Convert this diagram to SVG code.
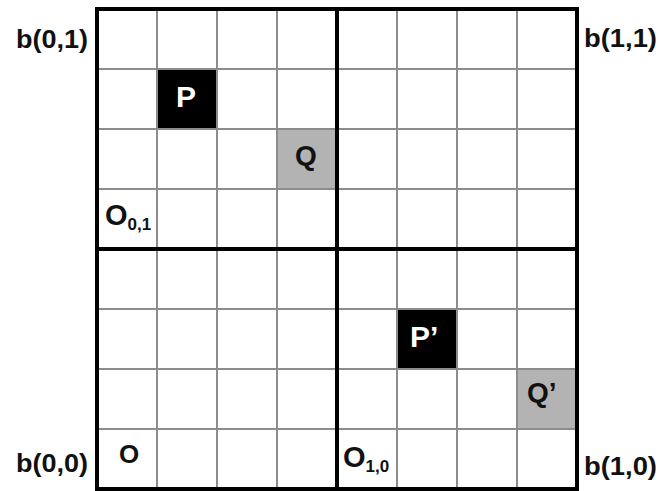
<svg xmlns="http://www.w3.org/2000/svg" width="660" height="491" viewBox="0 0 660 491">
<style>
text{font-family:"Liberation Sans",Arial,sans-serif;font-weight:bold;fill:#111}
.thin{stroke:#8c8c8c;stroke-width:2;fill:none}
.thick{stroke:#000;stroke-width:4;fill:none}
.blk{fill:#000}
.gry{fill:#b3b3b3}
.lbl{font-size:25px}
</style>
<rect width="660" height="491" fill="#fff"/>
<g id="cells">
<rect id="cellP" class="blk" x="157" y="69" width="60" height="60"/>
<rect id="cellQ" class="gry" x="277" y="129" width="60" height="60"/>
<rect id="cellP2" class="blk" x="397" y="309" width="60" height="60"/>
<rect id="cellQ2" class="gry" x="517" y="369" width="60" height="60"/>
</g>
<g id="grid">
<path class="thin" d="M157 9V489M217 9V489M277 9V489M397 9V489M457 9V489M517 9V489M97 69H577M97 129H577M97 189H577M97 309H577M97 369H577M97 429H577"/>
<path class="thick" d="M337 9V489M97 249H577"/>
<rect class="thick" x="97" y="9" width="480" height="480"/>
</g>
<g id="labels">
<g id="b01"><text class="lbl" x="16" y="48" textLength="72" lengthAdjust="spacingAndGlyphs">b(0,1)</text></g>
<g id="b11"><text class="lbl" x="584" y="47" textLength="73" lengthAdjust="spacingAndGlyphs">b(1,1)</text></g>
<g id="b00"><text class="lbl" x="16" y="472" textLength="72" lengthAdjust="spacingAndGlyphs">b(0,0)</text></g>
<g id="b10"><text class="lbl" x="584" y="475" textLength="73" lengthAdjust="spacingAndGlyphs">b(1,0)</text></g>
</g>
<g id="nodes">
<g id="P"><text x="186" y="107" font-size="30" text-anchor="middle" style="fill:#fff">P</text></g>
<g id="Q"><text x="306" y="165" font-size="28" text-anchor="middle">Q</text></g>
<g id="P2"><text x="410" y="347" font-size="30" style="fill:#fff">P’</text></g>
<g id="Q2"><text x="527" y="402" font-size="28">Q’</text></g>
<g id="O"><text x="129" y="463" font-size="26" text-anchor="middle">O</text></g>
<g id="O01"><text x="105" y="225" font-size="29">O<tspan font-size="17" dy="5">0,1</tspan></text></g>
<g id="O10"><text x="343" y="467" font-size="29">O<tspan font-size="17" dy="5">1,0</tspan></text></g>
</g>
</svg>
